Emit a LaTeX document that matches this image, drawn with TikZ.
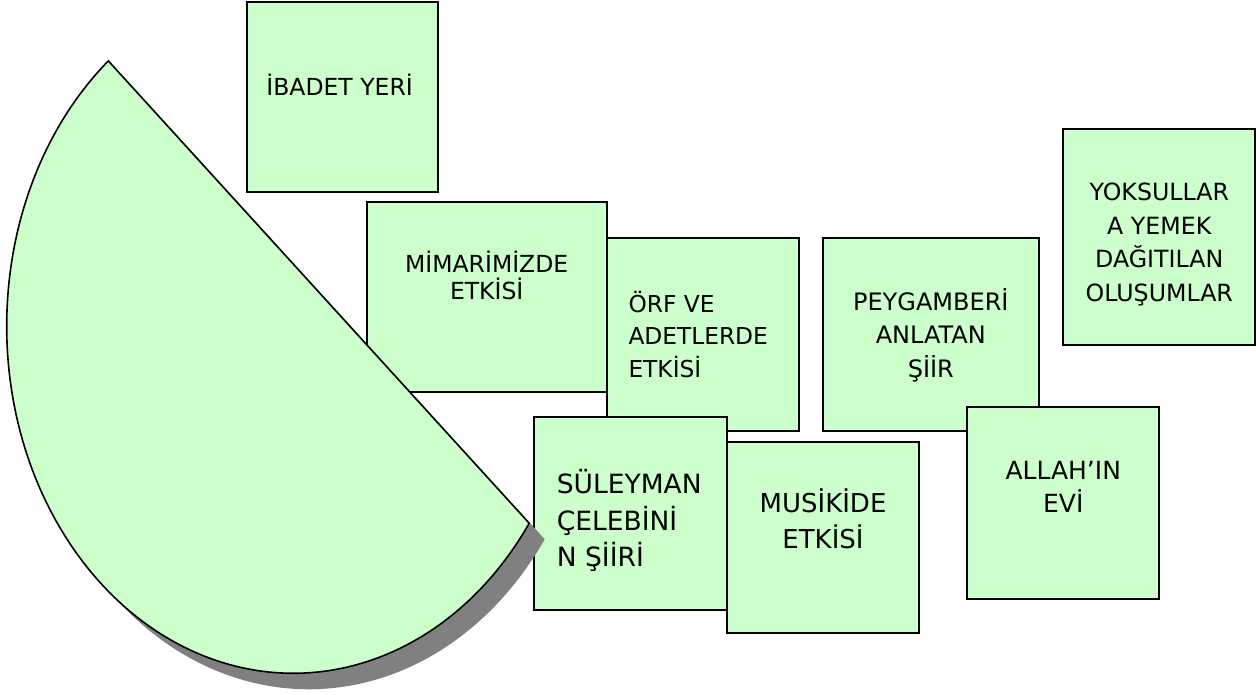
\documentclass[tikz,border=0pt]{standalone}
\usepackage{fontspec}
\setmainfont{DejaVu Sans}
\definecolor{boxgreen}{HTML}{CCFFCC}
\definecolor{shadowgray}{HTML}{808080}
\tikzset{
  greenbox/.style={draw=black, line width=2pt, fill=boxgreen, rectangle, inner sep=0pt},
  lbl/.style={inner sep=0pt, text=black, align=center},
}
\begin{document}
\begin{tikzpicture}[x=1pt,y=1pt]
\useasboundingbox (0,0) rectangle (1256,695);
% boxes
\node[greenbox, minimum width=191.5pt, minimum height=190pt] (b1) at (342.25,597.5) {};
\node[lbl, font=\fontsize{23.5}{27}\selectfont] (t1) at (339.6,610.5) {İBADET YERİ};
\node[greenbox, minimum width=240pt, minimum height=190pt] (b2) at (487,398) {};
\node[lbl, font=\fontsize{23.5}{27}\selectfont] (t2) at (486.7,419.7) {MİMARİMİZDE\\ETKİSİ};
\node[greenbox, minimum width=192pt, minimum height=192.4pt] (b3) at (703,360.5) {};
\node[lbl, align=left, anchor=west, font=\fontsize{23.3}{32.4}\selectfont] (t3) at (628.3,360.6) {ÖRF VE\\ADETLERDE\\ETKİSİ};
\node[greenbox, minimum width=216pt, minimum height=192.4pt] (b4) at (931.3,360.5) {};
\node[lbl, font=\fontsize{24}{33.2}\selectfont] (t4) at (930.8,359.8) {PEYGAMBERİ\\ANLATAN\\ŞİİR};
\node[greenbox, minimum width=191.2pt, minimum height=216pt] (b5) at (1159,458) {};
\node[lbl, font=\fontsize{23.7}{33.4}\selectfont] (t5) at (1159.3,450.5) {YOKSULLAR\\A YEMEK\\DAĞITILAN\\OLUŞUMLAR};
\node[greenbox, minimum width=193.3pt, minimum height=192.7pt] (b6) at (630.65,181.35) {};
\node[lbl, align=left, anchor=west, font=\fontsize{26.5}{36.5}\selectfont] (t6) at (556.7,174.1) {SÜLEYMAN\\ÇELEBİNİ\\N ŞİİRİ};
\node[greenbox, minimum width=192pt, minimum height=191.6pt] (b7) at (823.3,157.5) {};
\node[lbl, font=\fontsize{26}{36}\selectfont] (t7) at (823,176.5) {MUSİKİDE\\ETKİSİ};
\node[greenbox, minimum width=192pt, minimum height=192pt] (b8) at (1063.3,192.3) {};
\node[lbl, font=\fontsize{25}{33.3}\selectfont] (t8) at (1063.3,208.3) {ALLAH'IN\\EVİ};
% half ellipse with shadow
\fill[shadowgray, shift={(15.5,-16)}] (293.3,368.9) ++(130.2:286.6 and 347.2) arc[start angle=130.2, end angle=325.4, x radius=286.6, y radius=347.2] -- cycle;
\draw[line width=1.6pt, fill=boxgreen, line join=miter] (293.3,368.9) ++(130.2:286.6 and 347.2) arc[start angle=130.2, end angle=325.4, x radius=286.6, y radius=347.2] -- cycle;
\end{tikzpicture}
\end{document}
